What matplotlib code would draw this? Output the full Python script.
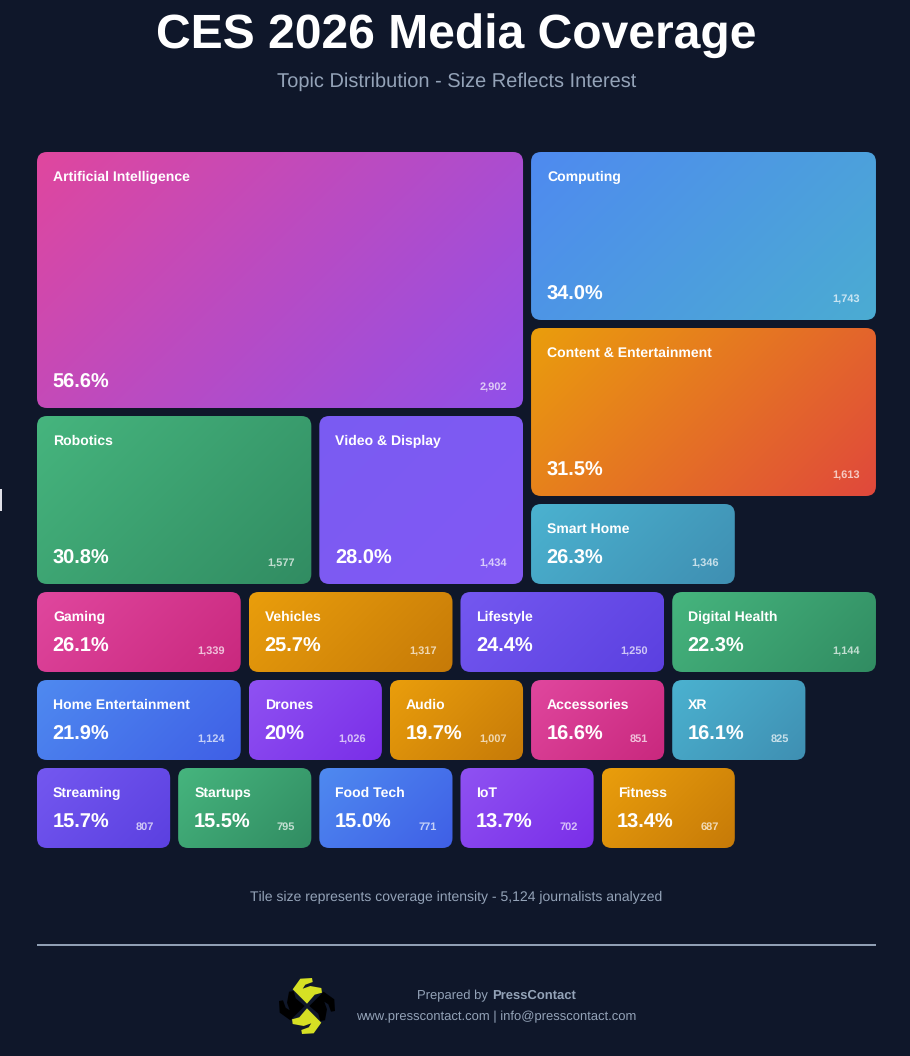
#!/usr/bin/env python3
# Treemap-style tile chart of CES 2026 media coverage
import matplotlib
matplotlib.use('Agg')
import matplotlib.pyplot as plt
import numpy as np
from matplotlib.colors import to_rgb
from matplotlib.patches import FancyBboxPatch, Polygon, Rectangle

plt.rcParams['font.family'] = ['Liberation Sans', 'DejaVu Sans']
plt.rcParams['text.hinting'] = 'no_hinting'
plt.rcParams['text.hinting_factor'] = 1

topics = ['Artificial Intelligence', 'Computing', 'Content & Entertainment', 'Robotics',
          'Video & Display', 'Smart Home', 'Gaming', 'Vehicles', 'Lifestyle', 'Digital Health',
          'Home Entertainment', 'Drones', 'Audio', 'Accessories', 'XR',
          'Streaming', 'Startups', 'Food Tech', 'IoT', 'Fitness']
percents = ['56.6%', '34.0%', '31.5%', '30.8%', '28.0%', '26.3%', '26.1%', '25.7%', '24.4%', '22.3%',
            '21.9%', '20%', '19.7%', '16.6%', '16.1%', '15.7%', '15.5%', '15.0%', '13.7%', '13.4%']
counts = [2902, 1743, 1613, 1577, 1434, 1346, 1339, 1317, 1250, 1144,
          1124, 1026, 1007, 851, 825, 807, 795, 771, 702, 687]

# grid placement of every tile: column, row, column span, row span
grid_cells = [(0, 0, 7, 3), (7, 0, 5, 2), (7, 2, 5, 2), (0, 3, 4, 2), (4, 3, 3, 2), (7, 4, 3, 1),
              (0, 5, 3, 1), (3, 5, 3, 1), (6, 5, 3, 1), (9, 5, 3, 1),
              (0, 6, 3, 1), (3, 6, 2, 1), (5, 6, 2, 1), (7, 6, 2, 1), (9, 6, 2, 1),
              (0, 7, 2, 1), (2, 7, 2, 1), (4, 7, 2, 1), (6, 7, 2, 1), (8, 7, 2, 1)]

PINK = ('#e0479e', '#c9287e')
ORANGE = ('#ea9e0c', '#c67a08')
GREEN = ('#46b57e', '#318c62')
TEAL = ('#4bb2d0', '#3f8fb2')
BLUE = ('#4f8af0', '#3f5fe6')
PURPLE = ('#8f52f2', '#7a2ee8')
VIOLET = ('#7458f0', '#5b40e0')
gradients = [('#e0479e', '#9050ea'), ('#4f8af0', '#4bacd2'), ('#ea9e0c', '#e0483c'), GREEN,
             ('#7a5cf2', '#8258f4'), TEAL, PINK, ORANGE, VIOLET, GREEN,
             BLUE, PURPLE, ORANGE, PINK, TEAL, VIOLET, GREEN, BLUE, PURPLE, ORANGE]

BG = '#0f172a'
LABEL_GREY = '#94a3b8'
GRID_LEFT, GRID_TOP = 37, 152
COL_W, ROW_H, GAP = 62.58, 80, 8


def draw_tile(ax, x, y, w, h, colors):
    """Rounded tile filled with a CSS style 135deg gradient"""
    nx, ny = int(w) * 2, int(h) * 2
    xs, ys = np.meshgrid(np.linspace(0, w, nx), np.linspace(0, h, ny))
    t = ((xs - w / 2) + (ys - h / 2)) / (w + h) + 0.5
    c0, c1 = np.array(to_rgb(colors[0])), np.array(to_rgb(colors[1]))
    img = c0 + (c1 - c0) * t[..., None]
    im = ax.imshow(img, extent=(x, x + w, y + h, y), origin='upper', aspect='auto',
                   interpolation='bilinear', zorder=2)
    # quadratic corners look tighter than CSS arcs, so the radius is a bit over 8
    clip = FancyBboxPatch((x + 10, y + 10), w - 20, h - 20, boxstyle='round,pad=10,rounding_size=10',
                          transform=ax.transData, facecolor='none', edgecolor='none')
    ax.add_patch(clip)
    im.set_clip_path(clip)


def draw_logo(ax, cx, cy):
    """PressContact mark: two yellow and two black hook pairs around a diamond"""
    yellow = '#d6e024'
    hook = np.array([[-14.3, -16.7], [-6.7, -27.3], [5, -28], [5.7, -24], [-1.7, -21.3], [-4.3, -17.3],
                     [3.3, -20], [14.3, -18], [15, -13.3], [7.7, -11.3], [4.3, -7.3], [0, -2.3]])
    # black first, the yellow hooks sit on top of it
    for angle, color in [(90, '#000000'), (270, '#000000'), (0, yellow), (180, yellow)]:
        a = np.deg2rad(angle)
        rot = np.array([[np.cos(a), -np.sin(a)], [np.sin(a), np.cos(a)]])
        pts = hook @ rot.T + [cx, cy]
        ax.add_patch(Polygon(pts, closed=True, facecolor=color, edgecolor='none', zorder=3))


fig = plt.figure(figsize=(9.1, 10.56), dpi=100, facecolor=BG)
ax = fig.add_axes([0, 0, 1, 1])
ax.set_xlim(0, 910)
ax.set_ylim(1056, 0)
ax.axis('off')

ax.text(456, 48, 'CES 2026 Media Coverage', color='white', fontsize=34.56, fontweight='bold',
        ha='center', va='baseline')
ax.text(456.5, 87, 'Topic Distribution - Size Reflects Interest', color=LABEL_GREY, fontsize=14.4,
        ha='center', va='baseline')

for name, pct, count, cell, colors in zip(topics, percents, counts, grid_cells, gradients):
    col, row, col_span, row_span = cell
    x = GRID_LEFT + col * (COL_W + GAP)
    y = GRID_TOP + row * (ROW_H + GAP)
    w = col_span * COL_W + (col_span - 1) * GAP
    h = row_span * ROW_H + (row_span - 1) * GAP
    draw_tile(ax, x, y, w, h, colors)
    ax.text(x + 16, y + 29, name, color='white', fontsize=10.08, fontweight='bold', va='baseline', zorder=4)
    ax.text(x + 15.5, y + h - 20, pct, color='white', fontsize=14.4, fontweight='bold', va='baseline', zorder=4)
    ax.text(x + w - 16, y + h - 18, f'{count:,}', color='white', alpha=0.7, fontsize=7.92,
            fontweight='bold', ha='right', va='baseline', zorder=4)

ax.text(456.5, 901, 'Tile size represents coverage intensity - 5,124 journalists analyzed',
        color=LABEL_GREY, fontsize=10.08, ha='center', va='baseline')
ax.plot([37, 876], [945, 945], color=LABEL_GREY, linewidth=1.4, solid_capstyle='butt')

draw_logo(ax, 307, 1006)
prep = ax.text(417, 999, 'Prepared by ', color=LABEL_GREY, fontsize=9.36, va='baseline')
fig.canvas.draw()
bb = prep.get_window_extent()
ax.text(bb.x1 + 1, 999, 'PressContact', color=LABEL_GREY, fontsize=9.36, fontweight='bold', va='baseline')
ax.text(496.5, 1020, 'www.presscontact.com | info@presscontact.com', color=LABEL_GREY, fontsize=9.36,
        ha='center', va='baseline')

# sliver of a page element at the left edge
ax.add_patch(Rectangle((0, 489), 1.5, 22, facecolor='#e0e0e8', edgecolor='none', zorder=3))

ax.set_xlim(0, 910)
ax.set_ylim(1056, 0)
fig.savefig('out.png', dpi=100, facecolor=BG)
